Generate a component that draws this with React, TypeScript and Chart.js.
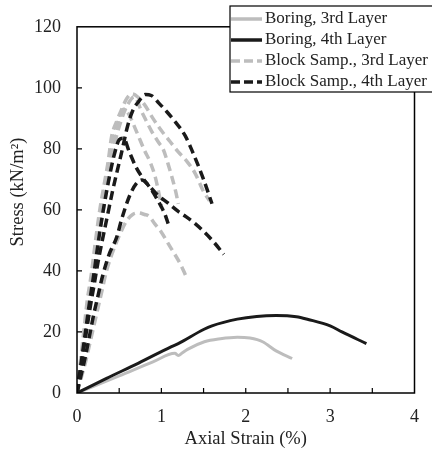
import React, { useEffect, useRef } from "react";
import { Chart, registerables } from "chart.js";

Chart.register(...registerables);

// ---- Data ----
const xTickValues = [0, 1, 2, 3, 4];
const yTickValues = [0, 20, 40, 60, 80, 100, 120];

const legendLabels = [
  "Boring, 3rd Layer",
  "Boring, 4th Layer",
  "Block Samp., 3rd Layer",
  "Block Samp., 4th Layer",
];

// Boring, 3rd Layer (gray solid)
const boring3X = [0, 0.5, 0.9, 1.16, 1.2, 1.25, 1.31, 1.51, 1.7, 1.9, 2.05, 2.2, 2.36, 2.55];
const boring3Y = [0, 5.6, 10.2, 13, 12.3, 13.2, 14.3, 16.8, 17.8, 18.3, 18, 16.8, 13.8, 11.3];

// Boring, 4th Layer (black solid)
const boring4X = [0, 0.35, 0.73, 1.12, 1.2, 1.5, 1.6, 1.9, 2.13, 2.36, 2.6, 2.74, 3.0, 3.14, 3.43];
const boring4Y = [0, 4.8, 9.8, 15.2, 16.2, 20.8, 22, 24.2, 25.1, 25.4, 25, 24.1, 22, 20, 16.2];

// Block samples, 3rd layer (gray dashed)
const block3aX = [0, 0.04, 0.08, 0.12, 0.17, 0.22, 0.27, 0.32, 0.37, 0.41, 0.47, 0.53, 0.59, 0.65, 0.72, 0.8, 0.9, 1.0, 1.1, 1.2, 1.3, 1.4, 1.5, 1.57];
const block3aY = [0, 10, 20, 30, 39, 50, 60, 68, 76, 84, 89, 93, 96.5, 98, 97, 94.5, 90, 86, 82.5, 79, 76, 72, 66, 63];
const block3bX = [0, 0.05, 0.1, 0.15, 0.2, 0.25, 0.3, 0.35, 0.4, 0.45, 0.52, 0.6, 0.68, 0.77, 0.88, 0.97, 1.02, 1.08, 1.17, 1.2];
const block3bY = [0, 10, 20, 30, 40, 50, 58, 66, 74, 82, 89, 94.5, 97, 92, 86, 82, 80, 75, 66, 62];
const block3cX = [0, 0.05, 0.1, 0.15, 0.2, 0.25, 0.3, 0.35, 0.4, 0.45, 0.5, 0.55, 0.6, 0.7, 0.8, 0.87, 0.93, 1.0];
const block3cY = [0, 11, 22, 33, 43, 53, 62, 70, 78, 85, 90, 93, 92, 86, 79.5, 75.5, 70.5, 61.5];
const block3dX = [0, 0.05, 0.1, 0.15, 0.2, 0.25, 0.3, 0.35, 0.42, 0.5, 0.59, 0.66, 0.73, 0.8, 0.85, 0.92, 1.0, 1.08, 1.16, 1.23, 1.29];
const block3dY = [0, 5, 10, 16, 22, 28, 34, 40, 46, 51.5, 56.5, 58.5, 59, 58.5, 58, 55.5, 52.7, 49, 45.4, 42, 38.4];

// Block samples, 4th layer (black dashed)
const block4aX = [0, 0.05, 0.1, 0.15, 0.2, 0.25, 0.3, 0.36, 0.42, 0.47, 0.53, 0.6, 0.66, 0.73, 0.81, 0.88, 0.97, 1.07, 1.16, 1.28, 1.37, 1.43, 1.5, 1.6];
const block4aY = [0, 9, 18, 27, 35, 43, 50, 58, 66, 72, 79, 87.5, 92.5, 95.5, 97.8, 97.5, 95, 92, 89, 84.4, 79, 75, 70, 62];
const block4bX = [0, 0.05, 0.1, 0.15, 0.2, 0.25, 0.3, 0.35, 0.4, 0.45, 0.5, 0.55, 0.62, 0.7, 0.77, 0.88, 0.95, 1.0, 1.05, 1.08];
const block4bY = [0, 10, 20, 30, 39, 49, 58, 66, 73, 79, 83, 83.5, 79, 74, 70.8, 66.7, 63.5, 61, 58, 55.5];
const block4cX = [0, 0.05, 0.1, 0.15, 0.2, 0.25, 0.3, 0.38, 0.47, 0.53, 0.62, 0.7, 0.77, 0.85, 0.95, 1.08, 1.2, 1.28, 1.4, 1.51, 1.62, 1.74];
const block4cY = [0, 6, 12, 19, 26, 32, 38, 45.4, 51, 57, 64.4, 68.5, 69.8, 68, 65, 62.2, 59.5, 58, 55.5, 52.7, 49.5, 45.4];

const GRAY = "#bdbdbd";
const BLACK = "#1a1a1a";
const FONT = "'Liberation Serif', 'Times New Roman', serif";

const pts = (xs: number[], ys: number[]) => xs.map((x, i) => ({ x, y: ys[i] }));

const framePlugin = {
  id: "frameAndLegend",
  afterDraw(chart: any) {
    const { ctx, chartArea: a, scales } = chart;
    const xs = scales.x;
    const ys = scales.y;
    ctx.save();
    // frame
    ctx.strokeStyle = "#000";
    ctx.lineWidth = 1.5;
    ctx.strokeRect(a.left, a.top, a.right - a.left, a.bottom - a.top);
    // inward ticks
    ctx.lineWidth = 1.2;
    ctx.beginPath();
    for (let v = 0.5; v < 4; v += 0.5) {
      const px = xs.getPixelForValue(v);
      ctx.moveTo(px, a.bottom);
      ctx.lineTo(px, a.bottom - 5);
    }
    for (let v = 20; v < 120; v += 20) {
      const py = ys.getPixelForValue(v);
      ctx.moveTo(a.left, py);
      ctx.lineTo(a.left + 5, py);
    }
    ctx.stroke();

    // axis titles
    ctx.fillStyle = "#222";
    ctx.font = `18.5px ${FONT}`;
    ctx.textAlign = "center";
    ctx.textBaseline = "middle";
    ctx.fillText("Axial Strain (%)", (a.left + a.right) / 2, 439);
    ctx.save();
    ctx.translate(18, 192);
    ctx.rotate(-Math.PI / 2);
    ctx.fillText("Stress (kN/m²)", 0, 0);
    ctx.restore();

    // legend
    const bx = 230, by = 6, bw = 220, bh = 86;
    ctx.fillStyle = "#fff";
    ctx.fillRect(bx, by, bw, bh);
    ctx.strokeStyle = "#000";
    ctx.lineWidth = 1.2;
    ctx.strokeRect(bx, by, bw, bh);
    const rows = [19, 40, 61, 82];
    const styles = [
      { c: GRAY, d: [] as number[] },
      { c: BLACK, d: [] as number[] },
      { c: GRAY, d: [9, 4] },
      { c: BLACK, d: [9, 4] },
    ];
    rows.forEach((ry, i) => {
      ctx.beginPath();
      ctx.setLineDash(styles[i].d);
      ctx.strokeStyle = styles[i].c;
      ctx.lineWidth = 3.5;
      ctx.moveTo(bx + 1, ry);
      ctx.lineTo(bx + 32, ry);
      ctx.stroke();
      ctx.setLineDash([]);
      ctx.fillStyle = "#222";
      ctx.textAlign = "left";
      ctx.textBaseline = "middle";
      ctx.font = `17px ${FONT}`;
      ctx.fillText(legendLabels[i], bx + 35, ry);
    });
    ctx.restore();
  },
};

export default function App() {
  const ref = useRef<HTMLCanvasElement | null>(null);
  useEffect(() => {
    if (!ref.current) return;
    const solid = (data: any, color: string, order: number) => ({
      data,
      borderColor: color,
      borderWidth: 3,
      pointRadius: 0,
      fill: false,
      cubicInterpolationMode: "monotone",
      order,
    });
    const dashed = (data: any, color: string, order: number) => ({
      data,
      borderColor: color,
      borderWidth: 3.5,
      borderDash: [9, 5],
      pointRadius: 0,
      fill: false,
      cubicInterpolationMode: "monotone",
      order,
    });
    const chart = new Chart(ref.current, {
      type: "line",
      data: {
        datasets: [
          solid(pts(boring3X, boring3Y), GRAY, 3),
          solid(pts(boring4X, boring4Y), BLACK, 1),
          dashed(pts(block3aX, block3aY), GRAY, 4),
          dashed(pts(block3bX, block3bY), GRAY, 4),
          dashed(pts(block3cX, block3cY), GRAY, 4),
          dashed(pts(block3dX, block3dY), GRAY, 4),
          dashed(pts(block4aX, block4aY), BLACK, 2),
          dashed(pts(block4bX, block4bY), BLACK, 2),
          dashed(pts(block4cX, block4cY), BLACK, 2),
        ] as any,
      },
      options: {
        animation: false,
        responsive: false,
        layout: { padding: { top: 15, right: 11, left: 0, bottom: 0 } },
        plugins: { legend: { display: false }, tooltip: { enabled: false } },
        scales: {
          x: {
            type: "linear",
            min: 0,
            max: 4,
            afterBuildTicks: (s: any) => {
              s.ticks = xTickValues.map((v) => ({ value: v }));
            },
            afterFit: (s: any) => {
              s.height = 63;
            },
            grid: { display: false, drawTicks: false },
            border: { display: false },
            ticks: { color: "#222", padding: 13, font: { family: FONT, size: 18 }, maxRotation: 0 },
          },
          y: {
            type: "linear",
            min: 0,
            max: 120,
            afterBuildTicks: (s: any) => {
              s.ticks = yTickValues.map((v) => ({ value: v }));
            },
            afterFit: (s: any) => {
              s.width = 77;
            },
            grid: { display: false, drawTicks: false },
            border: { display: false },
            ticks: { color: "#222", padding: 16, font: { family: FONT, size: 18 } },
          },
        },
      },
      plugins: [framePlugin],
    });
    return () => chart.destroy();
  }, []);
  return (
    <div style={{ position: "absolute", left: 0, top: 0, width: 432, height: 456, background: "#fff" }}>
      <canvas ref={ref} width={432} height={456} style={{ width: 432, height: 456 }} />
    </div>
  );
}
